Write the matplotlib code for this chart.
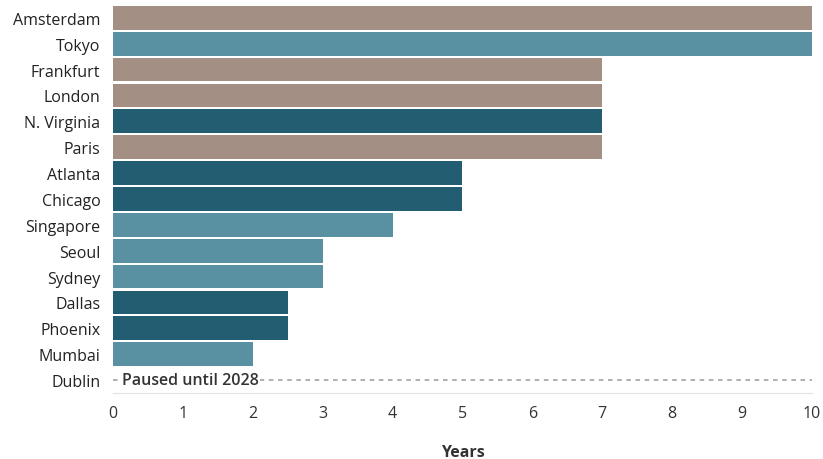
import matplotlib.pyplot as plt

plt.rcParams['font.family'] = ['Open Sans', 'DejaVu Sans']

# данные
cities = ['Amsterdam', 'Tokyo', 'Frankfurt', 'London', 'N. Virginia', 'Paris',
          'Atlanta', 'Chicago', 'Singapore', 'Seoul', 'Sydney', 'Dallas',
          'Phoenix', 'Mumbai', 'Dublin']
years = [10, 10, 7, 7, 7, 7, 5, 5, 4, 3, 3, 2.5, 2.5, 2, None]
region = ['eu', 'apac', 'eu', 'eu', 'us', 'eu', 'us', 'us', 'apac', 'apac',
          'apac', 'us', 'us', 'apac', 'eu']
paused_city = 'Dublin'
paused_text = 'Paused until 2028'

colors = {'eu': '#a38f84', 'apac': '#5a91a2', 'us': '#235d71'}

fig = plt.figure(figsize=(8.23, 4.6), dpi=100)
ax = fig.add_axes([0.1373, 0.1435, 0.8493, 0.8415])

for i, (c, v, r) in enumerate(zip(cities, years, region)):
    if v is None:
        continue
    ax.barh(i, v, height=0.92, color=colors[r])

# Дублин - пунктир
di = cities.index(paused_city)
ax.plot([0, 10], [di, di], ls=(0, (3, 3)), color='#9a9a9a', lw=1.1)
ax.text(0.13, di, paused_text, va='center', ha='left', fontsize=11.5,
        color='#333333', fontweight='semibold',
        bbox=dict(facecolor='white', edgecolor='none', pad=0.5))

ax.set_yticks(range(len(cities)))
ax.set_yticklabels(cities, fontsize=11.5, color='#222222')
ax.set_ylim(14.5, -0.46)
ax.set_xlim(0, 10)
ax.set_xticks(range(11))
ax.tick_params(axis='x', length=0, labelsize=11.5, labelcolor='#333333', pad=9)
ax.tick_params(axis='y', length=0, pad=9)
for s in ['top', 'right', 'left']:
    ax.spines[s].set_visible(False)
ax.spines['bottom'].set_color('#e3e3e3')
ax.set_xlabel('Years', fontsize=11.5, fontweight='bold', color='#333333', labelpad=16)

plt.savefig('out.png', dpi=100)
